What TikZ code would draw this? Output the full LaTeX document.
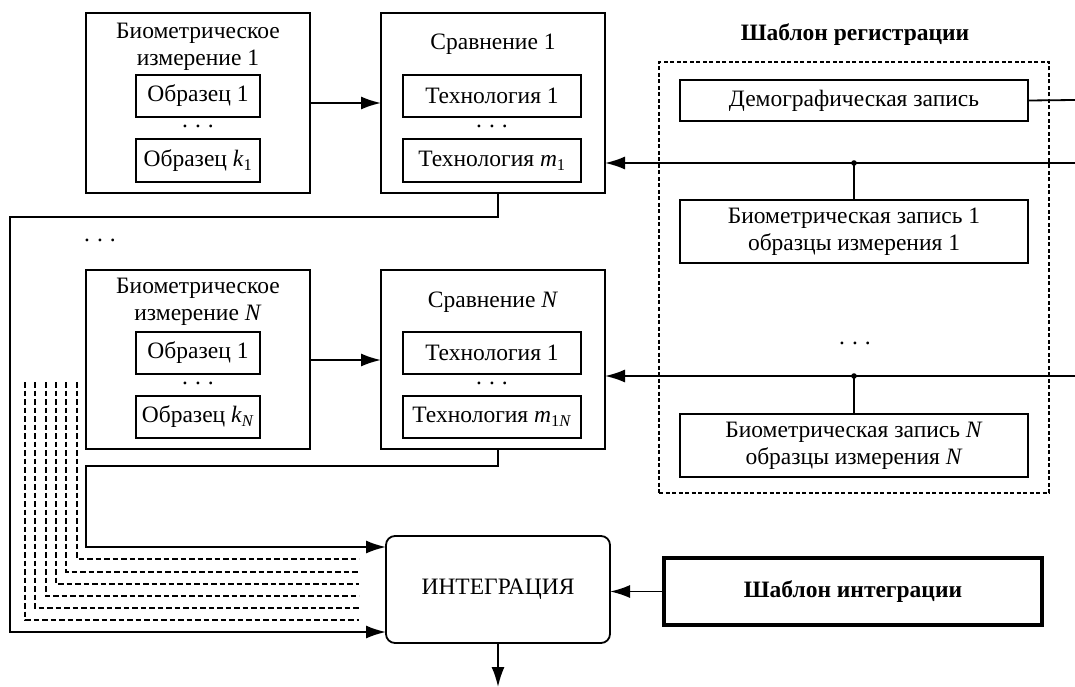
\documentclass[tikz,border=0pt]{standalone}
\usepackage{fontspec}
\setmainfont{Liberation Serif}
\usetikzlibrary{arrows.meta,calc}
\newcommand{\spdots}{.\hspace{7pt}.\hspace{7pt}.}
\begin{document}
\begin{tikzpicture}[x=1pt,y=-1pt,
  font=\fontsize{23.5}{27}\selectfont,
  line width=1.8pt,
  box/.style={draw,line width=1.8pt,inner sep=0pt,outer sep=0pt},
  lbl/.style={inner sep=0pt,align=center},
  arr/.style={-{Latex[length=20pt,width=13pt]}},
  regbox/.style={draw,line width=1.4pt,dash pattern=on 4pt off 2.5pt,inner sep=0pt,outer sep=0pt},
  dline/.style={line width=1.4pt,dash pattern=on 5.5pt off 3pt},
]
\useasboundingbox (0,0) rectangle (1075,687);

% --- measurement 1 and comparison 1
\node[box,minimum width=224pt,minimum height=180pt] (bio1) at (198,103) {};
\node[lbl] (bio1t) at (198,46.5) {Биометрическое\\измерение 1};
\node[box,minimum width=124pt,minimum height=42pt] (s11) at (198,96) {Образец 1};
\node[lbl] (s1d) at (198,126) {\spdots};
\node[box,minimum width=124pt,minimum height=43pt] (s1k) at (198,160.5) {Образец \textit{k}\textsubscript{1}};

\node[box,minimum width=224pt,minimum height=180pt] (comp1) at (493,103) {};
\node[lbl] (comp1t) at (493,44) {Сравнение 1};
\node[box,minimum width=178pt,minimum height=42pt] (t11) at (492,96) {Технология 1};
\node[lbl] (t1d) at (492,126) {\spdots};
\node[box,minimum width=178pt,minimum height=43pt] (t1m) at (492,160.5) {Технология \textit{m}\textsubscript{1}};

\node[lbl] (vdots) at (100,240) {\spdots};

% --- measurement N and comparison N
\node[box,minimum width=224pt,minimum height=179pt] (bioN) at (198,359.5) {};
\node[lbl] (bioNt) at (198,301.5) {Биометрическое\\измерение \textit{N}};
\node[box,minimum width=124pt,minimum height=42pt] (sN1) at (198,353) {Образец 1};
\node[lbl] (sNd) at (198,383) {\spdots};
\node[box,minimum width=124pt,minimum height=42pt] (sNk) at (198,417) {Образец \textit{k}\textsubscript{\textit{N}}};

\node[box,minimum width=224pt,minimum height=179pt] (compN) at (493,359.5) {};
\node[lbl] (compNt) at (493,302) {Сравнение \textit{N}};
\node[box,minimum width=178pt,minimum height=42pt] (tN1) at (492,353) {Технология 1};
\node[lbl] (tNd) at (492,383) {\spdots};
\node[box,minimum width=178pt,minimum height=42pt] (tNm) at (492,417) {Технология \textit{m}\textsubscript{1\textit{N}}};

% --- registration template
\node[lbl,font=\fontsize{23.5}{27}\selectfont\bfseries] (regt) at (855,35) {Шаблон регистрации};
\node[regbox,minimum width=390pt,minimum height=431pt] (reg) at (854,277.5) {};
\node[box,minimum width=348pt,minimum height=41pt] (demo) at (854,100.5) {Демографическая запись};
\node[box,minimum width=348pt,minimum height=63pt,align=center] (rec1) at (854,231.5) {Биометрическая запись 1\\образцы измерения 1};
\node[lbl] (regd) at (855,343) {\spdots};
\node[box,minimum width=348pt,minimum height=63pt,align=center] (recN) at (854,445.5) {Биометрическая запись \textit{N}\\образцы измерения \textit{N}};

% --- integration
\node[box,rounded corners=9pt,minimum width=224pt,minimum height=107pt] (integ) at (498,589.5) {ИНТЕГРАЦИЯ};
\node[box,line width=3.2pt,minimum width=378pt,minimum height=67pt,font=\fontsize{23.5}{27}\selectfont\bfseries] (tint) at (853,591.5) {Шаблон интеграции};

% --- free ends
\coordinate (r0) at (1075,100);
\coordinate (r1) at (1075,163);
\coordinate (r2) at (1075,376);
\coordinate (inA) at (integ.west |- 0,547);
\coordinate (inB) at (integ.west |- 0,632);
\coordinate (out) at (498,687);

% --- connectors
\draw[arr] (bio1.east) -- (comp1.west);
\draw[arr] ([yshift=-0.5pt]bioN.east) -- ([yshift=-0.5pt]compN.west);
\draw (demo.east) -- (r0);
\draw[arr] (r1) -- (r1 -| comp1.east);
\draw[arr] (r2) -- (r2 -| compN.east);
\draw (rec1.north) -- (rec1.north |- r1);
\draw (recN.north) -- (recN.north |- r2);
\fill (rec1.north |- r1) circle (2.8pt);
\fill (recN.north |- r2) circle (2.8pt);

\draw[arr] ([xshift=5pt]comp1.south) |- (10,217) |- (inB);
\draw[arr] ([xshift=5pt]compN.south) |- (86,466) |- (inA);
\foreach \x/\y in {77/559,66/572,56/584,46/596,35/608,25/620}
  \draw[dline] (\x,382) |- (359,\y);

\draw[arr] (tint.west) -- (tint.west -| integ.east);
\draw[arr] (integ.south) -- (out);
\end{tikzpicture}
\end{document}
